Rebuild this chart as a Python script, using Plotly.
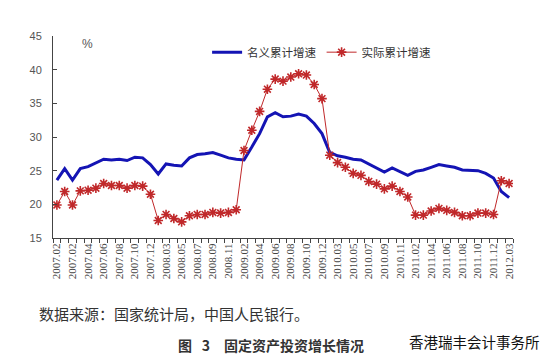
import plotly.graph_objects as go

nominal = [23.6, 25.3, 23.6, 25.3, 25.6, 26.1, 26.7, 26.6, 26.7, 26.5, 27.0, 26.9,
           25.9, 24.5, 26.0, 25.8, 25.7, 26.9, 27.4, 27.5, 27.7, 27.3, 26.9, 26.7,
           26.6, 28.5, 30.5, 33.0, 33.6, 33.0, 33.1, 33.4, 33.1, 32.0, 30.5, 27.7,
           27.2, 27.0, 26.7, 26.6, 26.0, 25.5, 24.8, 25.4, 24.8, 24.3, 24.9, 25.1,
           25.5, 25.9, 25.7, 25.5, 25.1, 25.0, 25.0, 24.6, 23.9, 21.9, 21.0]
real = [19.9, 21.9, 19.9, 22.0, 22.1, 22.4, 23.1, 22.8, 22.8, 22.4, 22.8, 22.7,
        21.5, 17.6, 18.5, 17.9, 17.4, 18.3, 18.5, 18.5, 18.8, 18.7, 18.8, 19.2,
        28.0, 31.0, 33.8, 37.1, 38.6, 38.3, 38.9, 39.4, 39.2, 37.8, 35.7, 27.3,
        26.2, 25.5, 24.6, 24.3, 23.4, 23.0, 22.3, 22.7, 21.9, 21.1, 18.4, 18.4,
        19.0, 19.4, 19.1, 18.8, 18.3, 18.3, 18.7, 18.7, 18.5, 23.5, 23.1]
tick_labels = ["2007.02", "2007.02", "2007.04", "2007.06", "2007.08", "2007.10",
               "2007.12", "2008.03", "2008.05", "2008.07", "2008.09", "2008.11",
               "2009.02", "2009.04", "2009.06", "2009.08", "2009.10", "2009.12",
               "2010.03", "2010.05", "2010.07", "2010.09", "2010.11", "2011.02",
               "2011.04", "2011.06", "2011.08", "2011.10", "2011.12", "2012.03"]
series_names = ["名义累计增速", "实际累计增速"]

x = list(range(len(nominal)))
tickvals = x[::2]

fig = go.Figure()
fig.add_trace(go.Scatter(x=x, y=nominal, mode="lines", name=series_names[0],
                         line=dict(color="#1414b4", width=3)))
fig.add_trace(go.Scatter(x=x, y=real, mode="lines+markers", name=series_names[1],
                         line=dict(color="#c0282a", width=1),
                         marker=dict(symbol="asterisk-open", size=8,
                                     line=dict(color="#e01e24", width=1.6))))

fig.update_layout(
    width=550, height=363,
    margin=dict(l=53, r=37, t=36, b=125),
    paper_bgcolor="white", plot_bgcolor="white",
    showlegend=True,
    legend=dict(orientation="h", x=0.335, y=0.92, xanchor="left", yanchor="middle",
                font=dict(family="Noto Sans CJK SC", size=11.5, color="#333"),
                bgcolor="rgba(0,0,0,0)", itemwidth=30, tracegroupgap=0),
    xaxis=dict(range=[-0.5, 58.5], tickmode="array", tickvals=tickvals,
               ticktext=tick_labels, tickangle=-90, ticks="",
               tickfont=dict(family="Liberation Serif", size=11, color="#444"),
               showline=True, linecolor="#444", linewidth=1, showgrid=False,
               zeroline=False,
               minor=dict(tickmode="linear", tick0=-0.5, dtick=1, ticks="outside",
                          ticklen=4, tickcolor="#444", tickwidth=1)),
    yaxis=dict(range=[15, 45], dtick=5, ticks="inside", ticklen=4, tickcolor="#444",
               showline=True, linecolor="#444", linewidth=1, showgrid=False,
               zeroline=False, ticklabelstandoff=8,
               tickfont=dict(family="Liberation Sans", size=11, color="#555")),
    annotations=[
        dict(text="%", x=0.058, y=1.005, xref="paper", yref="paper", showarrow=False,
             font=dict(family="Liberation Sans", size=12, color="#555")),
        dict(text="数据来源：国家统计局，中国人民银行。", x=-0.035, y=-0.376,
             xref="paper", yref="paper", xanchor="left", yanchor="middle",
             showarrow=False,
             font=dict(family="Noto Sans CJK SC", size=15, color="#333")),
        dict(text="<b>图\u2002\u20093\u3000固定资产投资增长情况</b>", x=0.474, y=-0.53,
             xref="paper", yref="paper", xanchor="center", yanchor="middle",
             showarrow=False,
             font=dict(family="Noto Sans CJK SC", size=14, color="#333")),
        dict(text="香港瑞丰会计事务所", x=1.063, y=-0.51, xref="paper",
             yref="paper", xanchor="right", yanchor="middle", showarrow=False,
             font=dict(family="Noto Sans CJK SC", size=14.5, color="#111")),
    ],
)

fig.write_html("out.html", config={"displayModeBar": False},
               post_script="document.body.style.margin='0';document.body.style.overflow='hidden';")
